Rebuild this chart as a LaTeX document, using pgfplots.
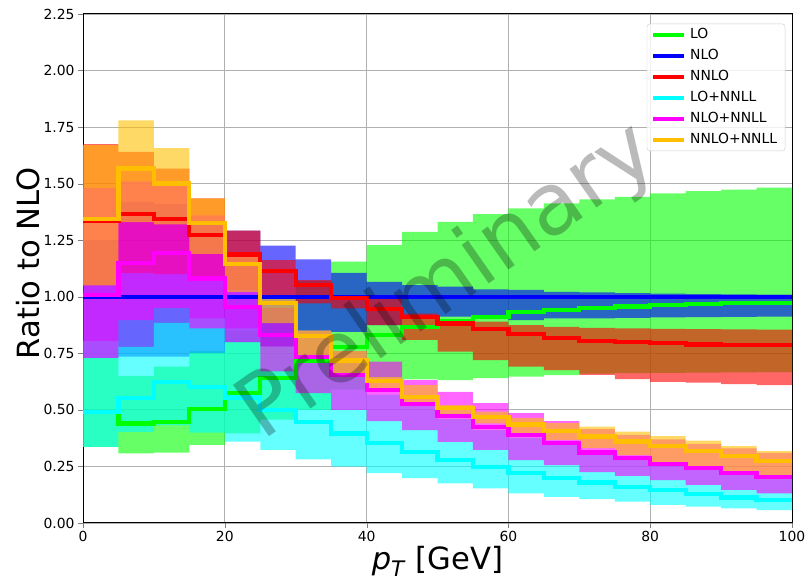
\documentclass[border=0pt]{standalone}
\usepackage{pgfplots}
\pgfplotsset{compat=1.18}
\usepackage{pgfplotstable}
\usepgfplotslibrary{fillbetween}
\usepackage{fontspec}
\setmainfont{DejaVu Sans}

\definecolor{cLO}{RGB}{0,255,0}
\definecolor{cNLO}{RGB}{0,0,255}
\definecolor{cNNLO}{RGB}{255,0,0}
\definecolor{cLOr}{RGB}{0,255,255}
\definecolor{cNLOr}{RGB}{255,0,255}
\definecolor{cNNLOr}{RGB}{255,191,0}

% bins of 5 GeV, last row repeats the last bin
\pgfplotstableread{
x lo c hi
0 0.337 0.492 0.730
5 0.308 0.440 0.650
10 0.311 0.448 0.691
15 0.345 0.504 0.760
20 0.396 0.574 0.850
25 0.457 0.640 0.950
30 0.500 0.716 1.070
35 0.590 0.779 1.155
40 0.640 0.831 1.228
45 0.635 0.868 1.287
50 0.632 0.894 1.331
55 0.640 0.912 1.365
60 0.647 0.931 1.391
65 0.654 0.941 1.413
70 0.660 0.950 1.430
75 0.662 0.957 1.442
80 0.664 0.963 1.457
85 0.665 0.968 1.467
90 0.666 0.971 1.474
95 0.667 0.973 1.482
100 0.667 0.973 1.482
}\tLO

\pgfplotstableread{
x lo c hi
0 0.730 1.000 1.250
5 0.735 1.000 1.420
10 0.735 1.000 1.410
15 0.751 1.000 1.330
20 0.800 1.000 1.292
25 0.780 1.000 1.226
30 0.850 1.000 1.165
35 0.845 1.000 1.106
40 0.875 1.000 1.066
45 0.915 1.000 1.052
50 0.912 1.000 1.045
55 0.905 1.000 1.033
60 0.897 1.000 1.030
65 0.905 1.000 1.022
70 0.905 1.000 1.019
75 0.907 1.000 1.016
80 0.909 1.000 1.014
85 0.910 1.000 1.012
90 0.911 1.000 1.011
95 0.912 1.000 1.010
100 0.912 1.000 1.010
}\tNLO

\pgfplotstableread{
x lo c hi
0 1.050 1.335 1.675
5 1.105 1.365 1.640
10 1.100 1.343 1.567
15 1.090 1.273 1.435
20 1.030 1.187 1.292
25 0.994 1.115 1.162
30 0.971 1.052 1.074
35 0.949 0.993 1.000
40 0.875 0.946 0.995
45 0.809 0.912 0.925
50 0.757 0.882 0.890
55 0.720 0.856 0.890
60 0.691 0.835 0.875
65 0.676 0.816 0.867
70 0.655 0.806 0.862
75 0.636 0.799 0.860
80 0.624 0.794 0.858
85 0.620 0.789 0.857
90 0.614 0.788 0.856
95 0.610 0.786 0.855
100 0.610 0.786 0.855
}\tNNLO

\pgfplotstableread{
x lo c hi
0 0.337 0.492 0.804
5 0.403 0.551 0.779
10 0.433 0.624 0.885
15 0.399 0.600 0.904
20 0.360 0.555 0.860
25 0.323 0.500 0.780
30 0.281 0.448 0.720
35 0.249 0.396 0.660
40 0.220 0.352 0.566
45 0.198 0.315 0.530
50 0.175 0.278 0.460
55 0.153 0.249 0.410
60 0.131 0.222 0.376
65 0.116 0.200 0.345
70 0.105 0.179 0.315
75 0.094 0.160 0.290
80 0.080 0.146 0.265
85 0.072 0.128 0.245
90 0.065 0.113 0.225
95 0.057 0.102 0.205
100 0.057 0.102 0.205
}\tLOr

\pgfplotstableread{
x lo c hi
0 0.730 1.008 1.480
5 0.897 1.148 1.510
10 0.950 1.192 1.490
15 0.860 1.081 1.360
20 0.800 0.956 1.180
25 0.670 0.831 0.950
30 0.574 0.735 0.850
35 0.500 0.654 0.760
40 0.450 0.588 0.713
45 0.411 0.526 0.632
50 0.359 0.473 0.580
55 0.323 0.426 0.530
60 0.278 0.389 0.486
65 0.256 0.352 0.450
70 0.225 0.312 0.415
75 0.208 0.288 0.390
80 0.190 0.261 0.370
85 0.168 0.242 0.350
90 0.146 0.220 0.330
95 0.131 0.202 0.310
100 0.131 0.202 0.310
}\tNLOr

\pgfplotstableread{
x lo c hi
0 1.050 1.343 1.670
5 1.330 1.567 1.780
10 1.320 1.501 1.657
15 1.190 1.327 1.435
20 1.020 1.145 1.180
25 0.884 0.974 0.990
30 0.742 0.826 0.850
35 0.650 0.718 0.760
40 0.590 0.627 0.645
45 0.520 0.558 0.610
50 0.480 0.507 0.521
55 0.440 0.467 0.492
60 0.395 0.435 0.465
65 0.367 0.406 0.443
70 0.331 0.382 0.426
75 0.300 0.360 0.404
80 0.270 0.340 0.384
85 0.250 0.319 0.364
90 0.227 0.296 0.340
95 0.212 0.275 0.318
100 0.212 0.275 0.318
}\tNNLOr

% scale band between lo and hi of a table
\newcommand{\band}[3]{%
  \addplot[name path=#2u, const plot, draw=none, forget plot] table[x=x,y=hi]{#1};
  \addplot[name path=#2l, const plot, draw=none, forget plot] table[x=x,y=lo]{#1};
  \addplot[fill=#3, fill opacity=0.6, draw=none, forget plot] fill between[of=#2u and #2l];
}

\begin{document}
\begin{tikzpicture}
\begin{axis}[
  scale only axis, width=709pt, height=509pt,
  xmin=0, xmax=100, ymin=0, ymax=2.25,
  xtick={0,20,...,100}, ytick={0,0.25,...,2.25},
  /pgf/number format/assume math mode=true,
  y tick label style={/pgf/number format/.cd, fixed, fixed zerofill, precision=2, /tikz/.cd},
  tick label style={font=\fontsize{13.9}{16}\selectfont},
  tick align=outside, tick pos=left, major tick length=5pt,
  grid=major, grid style={color=black!31, line width=0.9pt},
  axis line style={line width=1pt},
  xlabel={\textit{p}\textsubscript{\textit{T}} [GeV]},
  ylabel={Ratio to NLO},
  label style={font=\fontsize{30.6}{34}\selectfont, inner sep=0pt},
  xlabel style={at={(axis description cs:0.5,-0.045)}, anchor=north},
  ylabel style={at={(axis description cs:-0.078,0.51)}, anchor=center, rotate=0},
  legend style={at={(0.9905,0.981)}, anchor=north east, draw=black!20, rounded corners=3pt,
    fill=white, fill opacity=0.8, text opacity=1, font=\fontsize{13.9}{16}\selectfont,
    inner xsep=4pt, inner ysep=4.5pt, row sep=8pt,
    nodes={inner xsep=4pt, inner ysep=0pt, text height=10pt, text depth=3pt},
    cells={anchor=west}},
  legend image code/.code={\draw[#1] (0pt,0pt) -- (31pt,0pt);},
]
\band{\tLO}{LO}{cLO}
\band{\tNLO}{NLO}{cNLO}
\band{\tNNLO}{NNLO}{cNNLO}
\band{\tLOr}{LOr}{cLOr}
\band{\tNLOr}{NLOr}{cNLOr}
\band{\tNNLOr}{NNLOr}{cNNLOr}

\addplot[cLO, const plot, line width=4.2pt] table[x=x,y=c]{\tLO};
\addlegendentry{LO}
\addplot[cNLO, const plot, line width=4.2pt] table[x=x,y=c]{\tNLO};
\addlegendentry{NLO}
\addplot[cNNLO, const plot, line width=4.2pt] table[x=x,y=c]{\tNNLO};
\addlegendentry{NNLO}
\addplot[cLOr, const plot, line width=4.2pt] table[x=x,y=c]{\tLOr};
\addlegendentry{LO+NNLL}
\addplot[cNLOr, const plot, line width=4.2pt] table[x=x,y=c]{\tNLOr};
\addlegendentry{NLO+NNLL}
\addplot[cNNLOr, const plot, line width=4.2pt] table[x=x,y=c]{\tNNLOr};
\addlegendentry{NNLO+NNLL}

\node[rotate=35, text=black, text opacity=0.27, font=\fontsize{86}{86}\selectfont]
  at (axis cs:51.5,1.06) {Preliminary};

\coordinate (sw) at (rel axis cs:0,0);
\coordinate (ne) at (rel axis cs:1,1);
\end{axis}
\pgfresetboundingbox
\path ([shift={(-83pt,-57pt)}]sw) rectangle ([shift={(16pt,14pt)}]ne);
\end{tikzpicture}
\end{document}
